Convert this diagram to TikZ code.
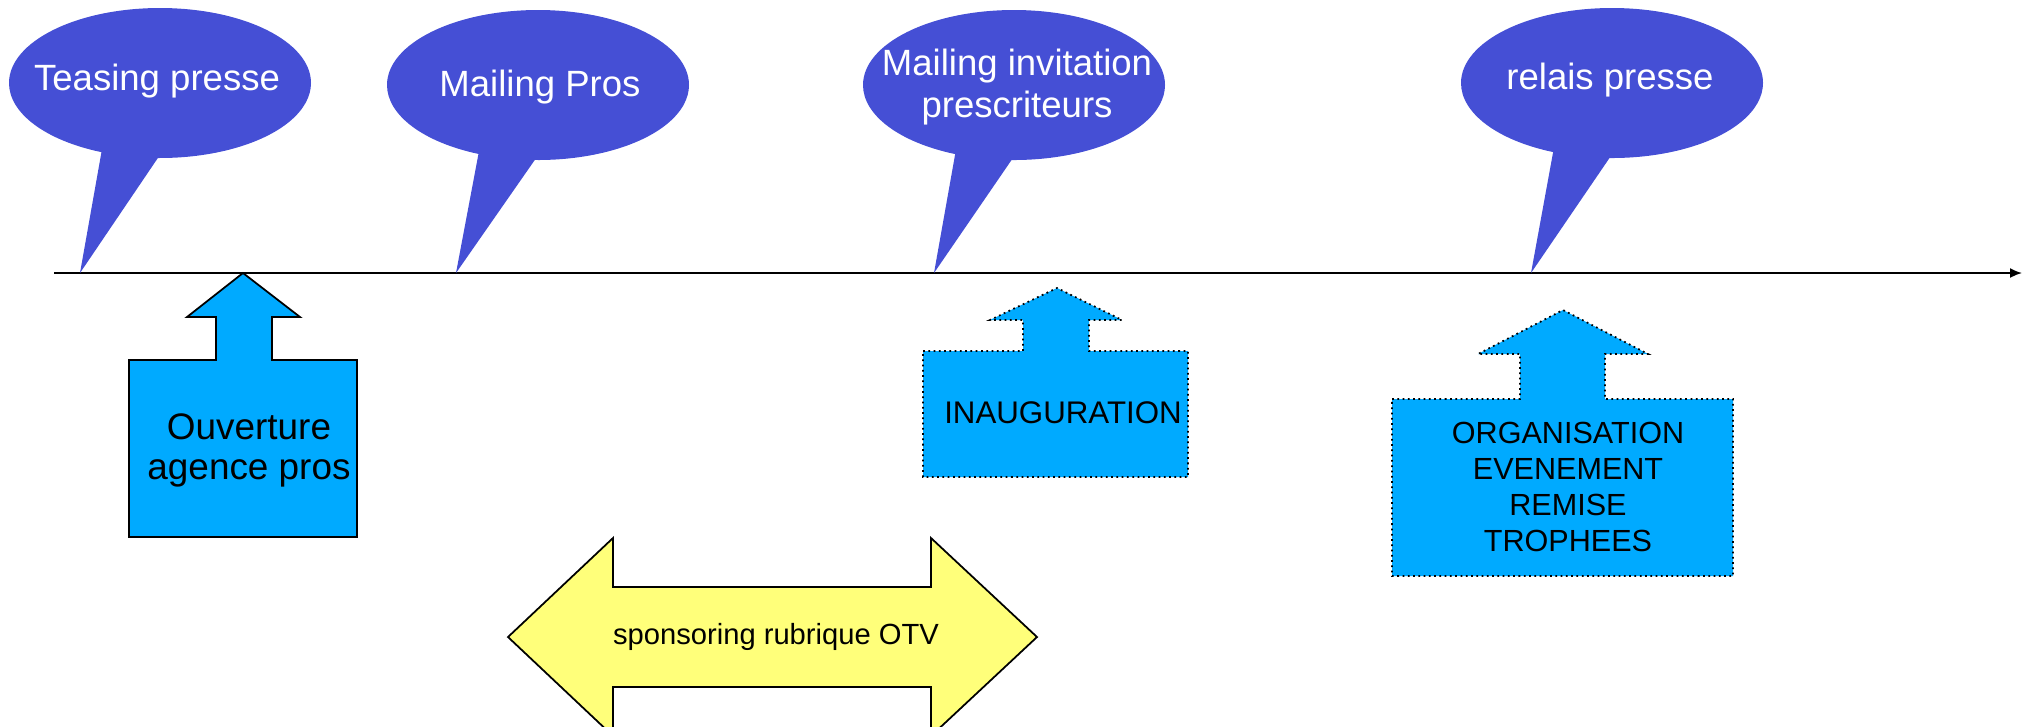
\documentclass[tikz,border=0pt]{standalone}
\usepackage{fontspec}
\setmainfont{Liberation Sans}
\usetikzlibrary{shapes.callouts,arrows.meta}

\definecolor{bleubulle}{RGB}{69,79,213}
\definecolor{bleubloc}{RGB}{0,170,255}
\definecolor{jaune}{RGB}{255,255,122}

\begin{document}
\begin{tikzpicture}[x=0.1mm,y=-0.1mm]

	%DEFINITIONS
	\tikzstyle{bulle} = [ellipse callout, fill=bleubulle, inner sep=0pt, minimum width=30.2mm, minimum height=15mm, callout pointer arc=22]
	\tikzstyle{texte bulle} = [text=white, align=center, font=\fontsize{10.4}{11.8}\selectfont]
	\tikzstyle{bloc} = [draw, fill=bleubloc, line width=0.5pt]
	\tikzstyle{bloc pointille} = [bloc, densely dotted]
	\tikzstyle{texte} = [align=center, inner sep=0pt]
	\tikzstyle{flecha} = [-{Latex[length=1.2mm,width=1mm]}, line width=0.5pt]

	\useasboundingbox (0,0) rectangle (2028,726);
	\clip (0,0) rectangle (2028,726);

	%AXE DU TEMPS
	\coordinate (debut) at (54,273);
	\coordinate (fin) at (2022,273);
	\coordinate (p1) at (80,273);
	\coordinate (p2) at (456,273);
	\coordinate (p3) at (934,273);
	\coordinate (p4) at (1531,273);
	\draw [flecha] (debut) -- (fin);

	%BULLES
	\node[bulle, callout absolute pointer=(p1)] (teasing) at (160,83) {};
	\node[bulle, callout absolute pointer=(p2)] (mailing) at (538,85) {};
	\node[bulle, callout absolute pointer=(p3)] (invitation) at (1014,85) {};
	\node[bulle, callout absolute pointer=(p4)] (relais) at (1612,83) {};
	\node[texte bulle] (tteasing) at (157,81) {Teasing presse};
	\node[texte bulle] (tmailing) at (540,87) {Mailing Pros};
	\node[texte bulle] (tinvitation) at (1017,87) {Mailing invitation\\prescriteurs};
	\node[texte bulle] (trelais) at (1610,80) {relais presse};

	%BLOCS
	\draw [bloc] (129,360) -- (216,360) -- (216,317) -- (187,317) -- (243,273) -- (300,317) -- (272,317) -- (272,360) -- (357,360) -- (357,537) -- (129,537) -- cycle;
	\draw [bloc pointille] (923,351) -- (1023,351) -- (1023,320) -- (990,320) -- (1057,288) -- (1122,320) -- (1089,320) -- (1089,351) -- (1188,351) -- (1188,477) -- (923,477) -- cycle;
	\draw [bloc pointille] (1392,399) -- (1520,399) -- (1520,354) -- (1478,354) -- (1563,310) -- (1648,354) -- (1605,354) -- (1605,399) -- (1733,399) -- (1733,576) -- (1392,576) -- cycle;
	\node[texte, font=\fontsize{10.5}{11.4}\selectfont] (ouverture) at (249,450) {Ouverture\\agence pros};
	\node[texte, font=\fontsize{8.9}{10.2}\selectfont] (inauguration) at (1063,413) {INAUGURATION};
	\node[texte, font=\fontsize{8.7}{10.2}\selectfont] (organisation) at (1568,487) {ORGANISATION\\EVENEMENT\\REMISE\\TROPHEES};

	%DOUBLE FLECHE
	\draw [fill=jaune, line width=0.5pt] (508,637) -- (613,538) -- (613,587) -- (931,587) -- (931,538) -- (1037,637) -- (931,736) -- (931,687) -- (613,687) -- (613,736) -- cycle;
	\node[texte, font=\fontsize{8.3}{10}\selectfont] (sponsoring) at (776,637) {sponsoring rubrique OTV};
\end{tikzpicture}
\end{document}
